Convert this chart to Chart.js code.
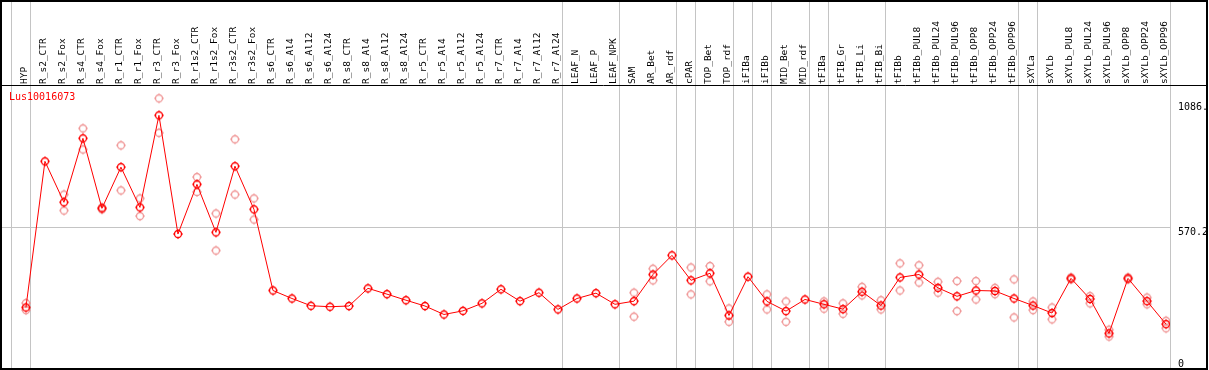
<!DOCTYPE html>
<html>
<head>
<meta charset="utf-8">
<script src="https://cdn.jsdelivr.net/npm/chart.js@4/dist/chart.umd.min.js"></script>
<style>
  html, body { margin: 0; padding: 0; background: #fff; }
  canvas { display: block; }
</style>
</head>
<body>
<canvas id="chart" width="1209" height="370"></canvas>
<script>
const geneName = "Lus10016073";

const categories = [
  "HYP", "R_s2_CTR", "R_s2_Fox", "R_s4_CTR", "R_s4_Fox", "R_r1_CTR", "R_r1_Fox",
  "R_r3_CTR", "R_r3_Fox", "R_r1s2_CTR", "R_r1s2_Fox", "R_r3s2_CTR", "R_r3s2_Fox",
  "R_s6_CTR", "R_s6_Al4", "R_s6_Al12", "R_s6_Al24", "R_s8_CTR", "R_s8_Al4",
  "R_s8_Al12", "R_s8_Al24", "R_r5_CTR", "R_r5_Al4", "R_r5_Al12", "R_r5_Al24",
  "R_r7_CTR", "R_r7_Al4", "R_r7_Al12", "R_r7_Al24", "LEAF_N", "LEAF_P", "LEAF_NPK",
  "SAM", "AR_Bet", "AR_rdf", "cPAR", "TOP_Bet", "TOP_rdf", "iFIBa", "iFIBb",
  "MID_Bet", "MID_rdf", "tFIBa", "tFIB_Gr", "tFIB_Li", "tFIB_Bi", "tFIBb",
  "tFIBb_PUL8", "tFIBb_PUL24", "tFIBb_PUL96", "tFIBb_OPP8", "tFIBb_OPP24", "tFIBb_OPP96",
  "sXYLa", "sXYLb", "sXYLb_PUL8", "sXYLb_PUL24", "sXYLb_PUL96", "sXYLb_OPP8",
  "sXYLb_OPP24", "sXYLb_OPP96"
];

// mean expression per sample
const expression = [
  242, 845, 676, 940, 651, 821, 655, 1035, 545, 750, 552, 825, 647,
  312, 279, 249, 245, 248, 321, 297, 272, 248, 213, 228, 259, 317, 268, 303, 234,
  279, 301, 255,
  268, 378, 457, 354, 383, 209, 369, 267, 227, 275, 255, 235, 307, 250,
  366, 378, 323, 288, 312, 310, 279,
  250, 219, 362, 277, 135, 362, 268, 173
];

// replicate values (null = not shown)
const repA = [
  260, null, 708, 981, 655, 911, 692, 1105, null, 780, 630, 936, 692,
  null, null, null, null, null, null, null, null, null, null, null, null, null, null, null, null,
  null, null, null,
  303, 402, null, 407, 413, 238, null, 296, 267, null, 267, 259, 327, 272,
  424, 416, 348, 351, 351, 323, 358,
  267, 242, 366, 289, 150, 366, 283, 187
];
const repB = [
  231, null, 642, 894, 647, 725, 619, 963, null, 719, 477, 708, 605,
  null, null, null, null, null, null, null, null, null, null, null, null, null, null, null, null,
  null, null, null,
  204, 354, null, 296, 350, 183, null, 234, 183, null, 237, 216, 292, 234,
  312, 345, 303, 227, 275, 297, 201,
  231, 193, 358, 259, 122, 358, 255, 156
];

const yTicks = [0, 570.2, 1086];
const yTickLabels = ["0", "570.2", "1086."];

// index of the last sample in each group (separator drawn after it)
const groupEnds = [-1, 0, 28, 31, 34, 35, 37, 38, 39, 41, 42, 45, 52, 53, 60];

Chart.defaults.font.family = "'DejaVu Sans Mono', monospace";
Chart.defaults.font.size = 10;
Chart.defaults.color = "#000";

const makeMarker = (color) => {
  const c = document.createElement("canvas");
  c.width = 12;
  c.height = 12;
  const g = c.getContext("2d");
  g.strokeStyle = color;
  g.fillStyle = color;
  g.lineWidth = 1.3;
  g.beginPath();
  g.arc(6, 6, 3.5, 0, Math.PI * 2);
  g.stroke();
  // little nubs on the ring
  g.fillRect(5.5, 1, 1, 1);
  g.fillRect(5.5, 10, 1, 1);
  g.fillRect(1, 5.5, 1, 1);
  g.fillRect(10, 5.5, 1, 1);
  return c;
};

const mainMarker = makeMarker("#ff0000");
const repMarker = makeMarker("#f09898");

const repPoints = [];
categories.forEach((c, i) => {
  if (repA[i] !== null) repPoints.push({ x: i, y: repA[i] });
  if (repB[i] !== null) repPoints.push({ x: i, y: repB[i] });
});

// separators, title and frame
const framePlugin = {
  id: "frame",
  beforeDraw(chart) {
    const ctx = chart.ctx;
    ctx.save();
    ctx.fillStyle = "#fff";
    ctx.fillRect(0, 0, chart.width, chart.height);
    ctx.restore();
  },
  beforeDatasetsDraw(chart) {
    const ctx = chart.ctx;
    const area = chart.chartArea;
    const xs = chart.scales.x;
    ctx.save();
    ctx.strokeStyle = "#c4c4c4";
    ctx.lineWidth = 1;
    ctx.beginPath();
    groupEnds.forEach((b) => {
      const px = Math.round(xs.getPixelForValue(b)) + 4.5;
      ctx.moveTo(px, 0);
      ctx.lineTo(px, area.bottom);
    });
    ctx.stroke();
    ctx.fillStyle = "#ff0000";
    ctx.textAlign = "left";
    ctx.textBaseline = "middle";
    ctx.font = "10px 'DejaVu Sans Mono', monospace";
    ctx.fillText(geneName, area.left + 7, area.top + 11);
    ctx.restore();
  },
  afterDraw(chart) {
    const ctx = chart.ctx;
    const area = chart.chartArea;
    ctx.save();
    ctx.strokeStyle = "#000";
    ctx.lineWidth = 2;
    ctx.strokeRect(1, 1, chart.width - 3, chart.height - 2);
    ctx.lineWidth = 1;
    ctx.beginPath();
    ctx.moveTo(0, area.top - 0.5);
    ctx.lineTo(chart.width - 2, area.top - 0.5);
    ctx.stroke();
    ctx.restore();
  }
};

new Chart(document.getElementById("chart"), {
  type: "line",
  data: {
    datasets: [
      {
        label: geneName,
        data: expression.map((v, i) => ({ x: i, y: v })),
        borderColor: "#ff0000",
        borderWidth: 1,
        pointStyle: mainMarker,
        pointRadius: 4,
        order: 0,
      },
      {
        label: "replicates",
        data: repPoints,
        showLine: false,
        pointStyle: repMarker,
        pointRadius: 4,
        order: 1,
      },
    ],
  },
  options: {
    responsive: false,
    animation: false,
    layout: { autoPadding: false, padding: { left: 2, right: 2, top: 0, bottom: 1 } },
    plugins: {
      legend: { display: false },
      tooltip: { enabled: false },
    },
    scales: {
      x: {
        type: "linear",
        position: "top",
        min: -1.26,
        max: 60.21,
        afterBuildTicks: (scale) => {
          scale.ticks = categories.map((c, i) => ({ value: i }));
        },
        afterFit: (scale) => {
          scale.height = 86;
          scale.paddingLeft = 0;
          scale.paddingRight = 0;
        },
        ticks: {
          autoSkip: false,
          minRotation: 90,
          maxRotation: 90,
          padding: 2,
          labelOffset: 10,
          font: { size: 9.5 },
          callback: (v) => categories[v] ?? "",
        },
        grid: { display: false, drawTicks: false },
        border: { display: false },
      },
      y: {
        type: "linear",
        position: "right",
        min: -12,
        max: 1156,
        afterBuildTicks: (scale) => {
          scale.ticks = yTicks.map((v) => ({ value: v }));
        },
        afterFit: (scale) => {
          scale.width = 37;
          scale.paddingTop = 0;
          scale.paddingBottom = 0;
        },
        ticks: {
          padding: 8,
          labelOffset: 4,
          callback: (v) => {
            const i = yTicks.indexOf(v);
            return i === 0 ? [yTickLabels[0], ""] : yTickLabels[i];
          },
        },
        grid: {
          drawTicks: false,
          color: (ctx) => (ctx.tick && ctx.tick.value === yTicks[1] ? "#c4c4c4" : "rgba(0,0,0,0)"),
        },
        border: { display: false },
      },
    },
  },
  plugins: [framePlugin],
});
</script>
</body>
</html>
